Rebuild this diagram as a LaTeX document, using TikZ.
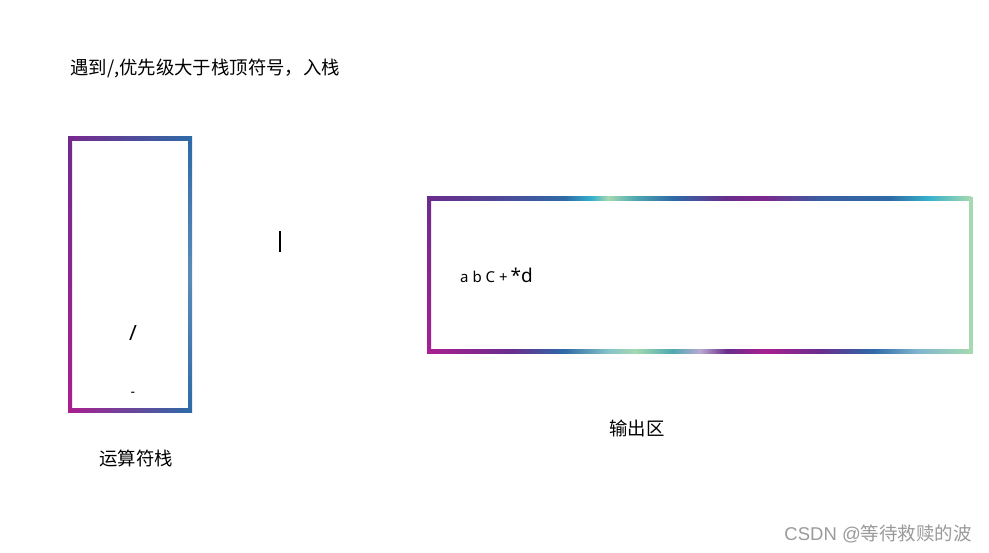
\documentclass[tikz,border=0pt]{standalone}
\usepackage{fontspec}
\setmainfont{Noto Sans}
\newfontfamily\cjk{Noto Sans CJK SC}
\newfontfamily\arialike{Liberation Sans}
\definecolor{cPurple}{HTML}{6A2C8C}
\definecolor{cMag}{HTML}{A8208F}
\definecolor{cBlue}{HTML}{2E6AA6}
\definecolor{cBlueL}{HTML}{5A8CBA}
\definecolor{cCyan}{HTML}{35B0CC}
\definecolor{cGreen}{HTML}{A5D9B0}
\definecolor{cTeal}{HTML}{4FA9B0}
\definecolor{cLav}{HTML}{B8A8D0}
\definecolor{cLBlue}{HTML}{7FB5D0}
\definecolor{wm}{HTML}{9A9A9A}
\pgfdeclarehorizontalshading{toprain}{100bp}{%
color(0bp)=(cPurple); color(25bp)=(cPurple); color(31bp)=(cPurple!60!cBlue);
color(37.5bp)=(cBlue); color(40bp)=(cCyan); color(41.5bp)=(cGreen);
color(44bp)=(cTeal); color(47.5bp)=(cBlue); color(52.5bp)=(cPurple);
color(56bp)=(cPurple!70!cMag); color(61bp)=(cBlue!80!cPurple); color(67.5bp)=(cBlue);
color(71bp)=(cCyan); color(75bp)=(cGreen); color(100bp)=(cGreen)}
\pgfdeclarehorizontalshading{botrain}{100bp}{%
color(0bp)=(cMag); color(25bp)=(cMag); color(32.5bp)=(cPurple);
color(37.5bp)=(cBlue); color(41.5bp)=(cTeal!70); color(44bp)=(cGreen);
color(47.5bp)=(cTeal); color(50bp)=(cLav); color(52.5bp)=(cPurple);
color(56bp)=(cMag); color(61bp)=(cPurple); color(66bp)=(cBlue);
color(70bp)=(cLBlue); color(75bp)=(cGreen); color(100bp)=(cGreen)}
\tikzset{
  cjktext/.style={font=\cjk\fontsize{18.4}{20}\selectfont, inner sep=0pt, text=black},
  wmtext/.style={font=\cjk\fontsize{18.5}{20}\selectfont, inner sep=0pt, text=wm},
}
\begin{document}
\begin{tikzpicture}[x=1pt,y=-1pt]
\useasboundingbox[fill=white] (0,0) rectangle (989,553);
% ---- operator stack frame ----
\shade[left color=cPurple!80!cMag, right color=cBlue] (70,137) rectangle (190,141);
\shade[left color=cMag, right color=cBlue] (70,409) rectangle (190,413);
\shade[top color=cPurple!90!cMag, bottom color=cMag] (68,137) rectangle (72,413);
\shade[top color=cBlue, bottom color=cBlue, middle color=cBlueL] (188,137) rectangle (192,413);
% ---- output frame ----
\shade[shading=toprain] (429,197) rectangle (971,201);
\shade[shading=botrain] (429,350) rectangle (971,354);
\shade[top color=cPurple, bottom color=cMag] (427,197) rectangle (431,354);
\fill[cGreen] (969,197) rectangle (973,354);
% ---- texts ----
\node[cjktext, anchor=west] (title) at (70,68) {遇到/,优先级大于栈顶符号，入栈};
\node[cjktext] (stacklbl) at (136,458) {运算符栈};
\node[cjktext] (outlbl) at (637,428) {输出区};
\node[font=\fontsize{21}{22}\selectfont, inner sep=0pt] (slash) at (133,333) {/};
\node[font=\fontsize{14}{15}\selectfont, inner sep=0pt] (minus) at (133,394) {-};
\node[anchor=base west, inner sep=0pt] (out) at (460,283)
  {{\fontsize{15}{17}\selectfont a b C +\hspace{3pt}}{\fontsize{19}{21}\selectfont *d}};
\coordinate (cur1) at (280,231);
\coordinate (cur2) at (280,252);
\draw[line width=1.2pt] (cur1) -- (cur2);
\node[wmtext, anchor=east] (wmark) at (972,534) {{\arialike CSDN @}等待救赎的波};
\end{tikzpicture}
\end{document}
